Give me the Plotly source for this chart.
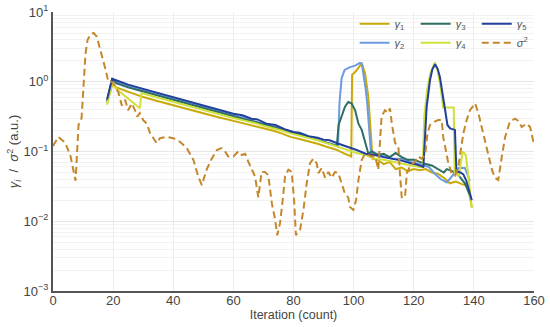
import plotly.graph_objects as go

# ---------------- data ----------------
sig_x = [0, 1.8, 4, 5.8, 7.5, 8.0, 8.5, 9.5, 10.1, 10.8, 11.5, 12.5, 13.5, 14.5, 15.2, 16.2, 17.3, 18.4,
         19.5, 20.5, 21.7, 22.9, 24, 25, 26.2, 27.3, 28, 28.9, 30, 31.2, 32.3, 33.4, 34.5, 35.6, 37.8,
         40, 42.2, 44.5, 46.7, 48.3, 49.5, 51.1, 52.8, 54.5, 56.1, 57.2, 58.3, 60, 61.6, 62.8, 63.9,
         65, 66.1, 67.2, 68.3, 68.9, 69.4, 70.5, 71.6, 72.8, 73.9, 74.6, 75.5, 76.4, 77.2, 78.3, 79.4,
         80.2, 80.8, 82.2, 83.3, 84.4, 85.5, 86.6, 87.7, 88.3, 89.4, 90.5, 91.6, 92.7, 93.8, 94.9, 96,
         97.1, 98.2, 98.8, 99.9, 100.8, 101.6, 102.7, 103.8, 104.9, 106, 107.2, 108.2, 108.8, 109.3,
         110.4, 111.5, 112.1, 112.7, 113.8, 114.9, 115.4, 116, 117.1, 117.7, 118.5, 119.3, 120.4,
         121.5, 122.6, 123.8, 124.5, 125.4, 126, 127.1, 128.2, 129.3, 129.8, 130.4, 131.5, 132.6,
         133.7, 134.8, 136.5, 137.6, 138.7, 140.4, 141.5, 142.6, 143.7, 144.8, 146, 147, 148.1, 149.3,
         150.4, 152, 153.7, 155, 155.9, 157.6, 158.7, 160]
sig_y = [0.12, 0.162, 0.135, 0.087, 0.038, 0.1, 0.24, 0.30, 1.0, 2.5, 4.0, 4.8, 5.0, 4.5, 3.5, 2.5, 1.6, 1.0,
         1.0, 0.89, 0.71, 0.457, 0.55, 0.39, 0.49, 0.39, 0.316, 0.355, 0.282, 0.251, 0.182, 0.155, 0.132, 0.155, 0.162,
         0.155, 0.138, 0.112, 0.076, 0.044, 0.033, 0.055, 0.079, 0.105, 0.112, 0.1, 0.085, 0.085, 0.1, 0.089, 0.093,
         0.071, 0.055, 0.044, 0.022, 0.032, 0.051, 0.051, 0.046, 0.018, 0.0105, 0.0063, 0.0093, 0.020, 0.044, 0.055, 0.051,
         0.020, 0.0063, 0.0076, 0.0145, 0.035, 0.068, 0.079, 0.068, 0.049, 0.058, 0.042, 0.051, 0.042, 0.051, 0.049, 0.035,
         0.025, 0.022, 0.016, 0.0145, 0.020, 0.039, 0.076, 0.093, 0.089, 0.085, 0.085, 0.055, 0.145, 0.316,
         0.39, 0.355, 0.417, 0.251, 0.132, 0.117, 0.049, 0.022, 0.022, 0.049, 0.058, 0.065, 0.071,
         0.085, 0.079, 0.089, 0.178, 0.24, 0.251, 0.27, 0.282, 0.282, 0.162, 0.117, 0.068, 0.049,
         0.045, 0.060, 0.182, 0.282, 0.39, 0.49, 0.355, 0.224, 0.145, 0.093, 0.055, 0.042, 0.039, 0.085,
         0.162, 0.27, 0.295, 0.27, 0.224, 0.251, 0.224, 0.126]

g1_x = [18, 19.7, 21, 25, 30, 35, 40, 45, 50, 55, 60, 64, 67, 70, 73, 76, 79, 82, 85, 88, 91, 94, 97, 99.2,
        99.5, 100.5, 101.6, 102.7, 103.8, 104.9, 105.5, 106.3, 108, 110, 112, 114, 116, 118, 120, 122,
        124, 126, 128, 130, 132, 134, 136, 138, 139.3]
g1_y = [0.50, 0.91, 0.83, 0.724, 0.603, 0.525, 0.457, 0.398, 0.347, 0.309, 0.275, 0.251, 0.234, 0.214, 0.20,
        0.182, 0.162, 0.151, 0.141, 0.129, 0.117, 0.107, 0.093, 0.085,
        1.26, 1.38, 1.58, 1.86, 1.32, 0.603, 0.251, 0.079, 0.076, 0.066, 0.071, 0.056, 0.059, 0.052, 0.056, 0.054,
        0.056, 0.050, 0.048, 0.042, 0.035, 0.037, 0.034, 0.032, 0.0158]

g2_x = [18, 19.7, 21, 25, 30, 35, 40, 45, 50, 55, 60, 64, 67, 70, 73, 76, 79, 82, 85, 88, 91, 94.8,
        95.3, 96, 97, 98.8, 100.5, 102.1, 102.7, 103.3, 104, 104.5, 105, 105.7, 107, 110, 113, 116, 119,
        122, 125, 127, 129, 131, 133, 135, 137, 138.7]
g2_y = [0.54, 1.05, 1.0, 0.87, 0.76, 0.66, 0.575, 0.50, 0.437, 0.38, 0.331, 0.302, 0.269, 0.251, 0.229, 0.214,
        0.186, 0.174, 0.162, 0.151, 0.135, 0.12,
        0.50, 1.12, 1.48, 1.62, 1.70, 1.86, 1.82, 1.26, 0.79, 0.50, 0.251, 0.105, 0.095, 0.087, 0.079, 0.079, 0.071,
        0.066, 0.060, 0.048, 0.040, 0.036, 0.045, 0.058, 0.058, 0.038]

g3_x = [18, 19.7, 21, 25, 30, 35, 40, 45, 50, 55, 60, 63, 66, 69, 72, 75, 78, 81, 84, 87, 90, 94.4,
        95, 96, 97.1, 98.2, 99.3, 100.5, 101.6, 102.7, 103.8, 104.9, 106, 108, 110, 112, 114, 116, 118,
        120, 122, 124, 126, 128, 130, 131, 133, 135, 137, 139]
g3_y = [0.525, 1.12, 0.955, 0.83, 0.724, 0.63, 0.55, 0.479, 0.417, 0.363, 0.316, 0.295, 0.275, 0.251, 0.234,
        0.214, 0.195, 0.182, 0.166, 0.151, 0.138, 0.12,
        0.24, 0.316, 0.437, 0.513, 0.49, 0.389, 0.251, 0.204, 0.132, 0.093, 0.10, 0.089, 0.093, 0.083, 0.095,
        0.083, 0.076, 0.076, 0.071, 0.066, 0.063, 0.056, 0.050, 0.056, 0.052, 0.045, 0.035, 0.022]

g4_x = [18, 19.7, 21, 25, 28.9, 29.4, 30, 35, 40, 45, 50, 55, 60, 64, 67, 70, 73, 76, 79, 82, 85, 88, 91,
        95, 98, 101, 104, 107, 110, 113, 116, 119, 122, 123, 123.5, 124.5, 125.5, 127, 128, 129, 129.8,
        133.3, 133.6, 135, 136.3, 137.3, 138.3, 139.3]
g4_y = [0.468, 0.955, 0.79, 0.575, 0.417, 0.676, 0.676, 0.589, 0.513, 0.447, 0.389, 0.339, 0.302, 0.275,
        0.257, 0.234, 0.219, 0.20, 0.182, 0.17, 0.155, 0.145, 0.132,
        0.115, 0.105, 0.095, 0.089, 0.079, 0.076, 0.071, 0.068, 0.063, 0.060, 0.060, 0.316, 0.79, 1.32, 1.9,
        1.41, 0.79, 0.427, 0.427, 0.050, 0.045, 0.10, 0.089, 0.04, 0.0155]

g5_x = [18, 19.7, 21, 25, 30, 35, 40, 45, 50, 55, 60, 63, 66, 68, 71, 74, 77, 80, 82, 85, 88, 90, 92, 95,
        98, 101, 104, 107, 110, 113, 116, 119, 121, 123.2, 124.3, 125.4, 126.2, 127.1, 128, 128.7, 129.6,
        130.4, 131.2, 132.1, 133.7, 134.2, 135.5, 136.5, 137.5, 139.3]
g5_y = [0.56, 1.10, 1.05, 0.91, 0.79, 0.69, 0.60, 0.525, 0.457, 0.398, 0.347, 0.331, 0.295, 0.288, 0.251,
        0.24, 0.209, 0.19, 0.186, 0.166, 0.158, 0.148, 0.145, 0.129,
        0.117, 0.105, 0.093, 0.089, 0.083, 0.079, 0.074, 0.068, 0.065, 0.060, 0.44, 1.05, 1.51, 1.78, 1.51,
        1.17, 0.71, 0.40, 0.24, 0.214, 0.204, 0.052, 0.050, 0.047, 0.038, 0.020]

y_tickvals = [0.001, 0.01, 0.1, 1, 10]
y_ticktext = ["10<sup>\u22123</sup>", "10<sup>\u22122</sup>", "10<sup>\u22121</sup>", "10<sup>0</sup>", "10<sup>1</sup>"]

# ---------------- figure ----------------
# (name, x, y, colour, legend column)
series = [
    ("<i>\u03b3</i><sub>1</sub>", g1_x, g1_y, "#c9aa0a", "legend"),
    ("<i>\u03b3</i><sub>2</sub>", g2_x, g2_y, "#6c9be0", "legend"),
    ("<i>\u03b3</i><sub>3</sub>", g3_x, g3_y, "#2f6f63", "legend2"),
    ("<i>\u03b3</i><sub>4</sub>", g4_x, g4_y, "#cfe03c", "legend2"),
    ("<i>\u03b3</i><sub>5</sub>", g5_x, g5_y, "#22409c", "legend3"),
]

fig = go.Figure()
for name, xs, ys, col, lg in series:
    fig.add_trace(go.Scatter(x=xs, y=ys, mode="lines", name=name, legend=lg,
                             line=dict(color=col, width=2)))
fig.add_trace(go.Scatter(x=sig_x, y=sig_y, mode="lines", name="<i>\u03c3</i><sup>2</sup>", legend="legend3",
                         line=dict(color="#c5872c", width=2, dash="7px,4px")))

font = "Liberation Sans, Arial, sans-serif"
leg_common = dict(orientation="v", y=1.01, xanchor="left", yanchor="top",
                  bgcolor="rgba(255,255,255,0)", font=dict(size=11, color="#555"),
                  itemwidth=30, tracegroupgap=0)
fig.update_layout(
    width=550, height=327,
    margin=dict(l=53, r=16, t=12, b=36, autoexpand=False),
    paper_bgcolor="white", plot_bgcolor="white",
    font=dict(family=font, size=13, color="#444"),
    showlegend=True,
    legend=dict(x=0.627, **leg_common),
    legend2=dict(x=0.754, **leg_common),
    legend3=dict(x=0.881, **leg_common),
)
fig.update_xaxes(range=[0, 160], dtick=20, showgrid=True, gridcolor="#ececec", gridwidth=1,
                 showline=True, linecolor="#555", linewidth=2, ticks="", zeroline=False, automargin=False,
                 ticklabeloverflow="allow", ticklabelstandoff=-4,
                 title=dict(text="Iteration (count)", standoff=0, font=dict(size=12.5, color="#444")),
                 tickfont=dict(size=13, color="#444"))
fig.update_yaxes(type="log", range=[-3, 1], tickvals=y_tickvals, ticktext=y_ticktext,
                 showgrid=True, gridcolor="#e6e6e6", gridwidth=1,
                 minor=dict(dtick="D1", showgrid=True, gridcolor="#f2f2f2", ticks=""),
                 showline=True, linecolor="#555", linewidth=2, ticks="", zeroline=False, automargin=False,
                 ticklabeloverflow="allow",
                 title=dict(text="<i>\u03b3<sub>i</sub></i>  /  <i>\u03c3</i><sup>2</sup> (a.u.)", standoff=2,
                            font=dict(size=13, color="#444")),
                 tickfont=dict(size=13, color="#444"))

# remove the default 8px page margin so the 550x327 figure fills the window exactly
fig.write_html("out.html", config={"displayModeBar": False},
               post_script="document.body.style.margin='0px';")
